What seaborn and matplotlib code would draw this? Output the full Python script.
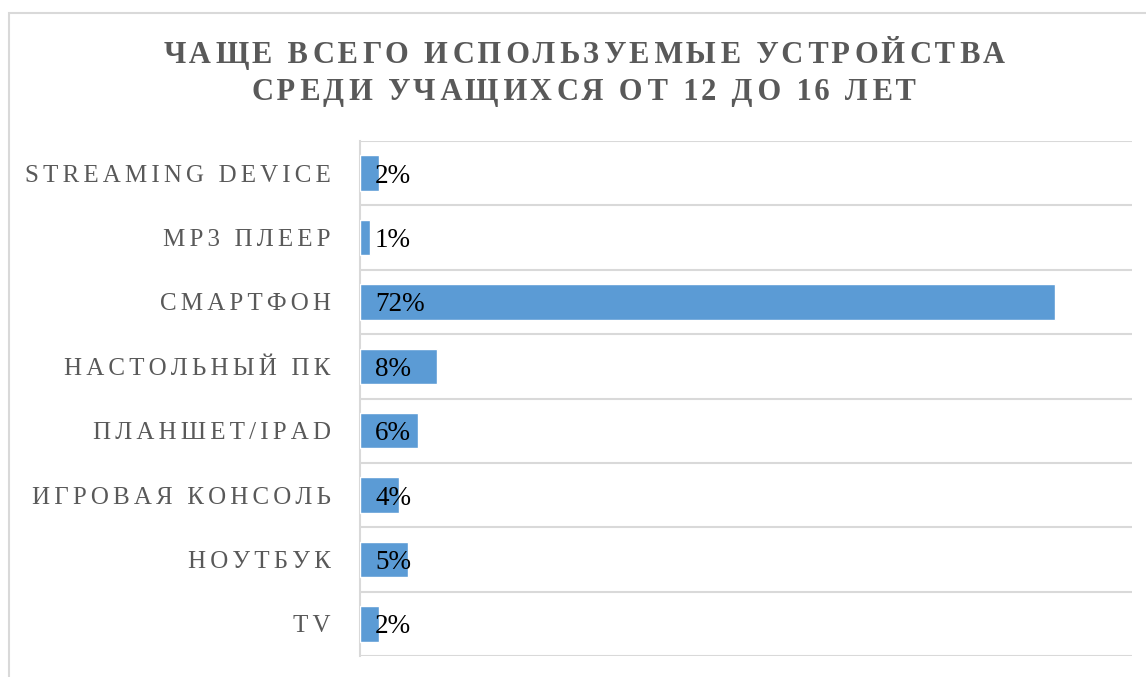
import matplotlib
matplotlib.use("Agg")
import matplotlib.pyplot as plt
import seaborn as sns
import pandas as pd
import numpy as np
from itertools import cycle
from matplotlib.patches import Rectangle

categories = ["Streaming device", "MP3 плеер", "Смартфон", "Настольный ПК",
              "Планшет/iPad", "Игровая консоль", "Ноутбук", "TV"]
values = [2, 1, 72, 8, 6, 4, 5, 2]
value_labels = ["2%", "1%", "72%", "8%", "6%", "4%", "5%", "2%"]
title_lines = ["Чаще всего используемые устройства",
               "среди учащихся от 12 до 16 лет"]


def spaced(s, seps):
    s = s.upper()
    it = cycle(seps)
    out = s[0]
    for ch in s[1:]:
        out += next(it) + ch
    return out


LABEL_SEPS = ["\u2006"]
TITLE_SEPS = ["\u200a", "\u2006"]

sns.set_theme(style="white")
plt.rcParams["font.family"] = ["Liberation Serif", "DejaVu Serif"]

W, H = 1146, 677
fig = plt.figure(figsize=(W / 100, H / 100), dpi=100)
ax = fig.add_axes([360 / W, 1 - 656 / H, (1132 - 360) / W, (656 - 141) / H])

# chart border
fig.patches.append(Rectangle((9 / W, -0.1), 1.2, 1 - 13 / H + 0.1,
                             transform=fig.transFigure, fill=False,
                             edgecolor="#d9d9d9", lw=1.5, zorder=0))

df = pd.DataFrame({"category": categories, "value": values})
sns.barplot(data=df, x="value", y="category", orient="h", color="#5B9BD5",
            saturation=1, width=0.55, ax=ax, zorder=3)

ax.set_xlim(0, 80)
ax.set_ylim(len(categories) - 0.5, -0.5)
ax.set_xlabel("")
ax.set_ylabel("")
ax.set_xticks([])
ax.set_yticks(range(len(categories)))
ax.set_yticklabels([spaced(c, LABEL_SEPS) for c in categories],
                   fontsize=18, color="#595959")
ax.tick_params(axis="y", which="major", length=0, pad=21)
ax.set_yticks(np.arange(-0.5, len(categories), 1), minor=True)
ax.tick_params(axis="y", which="minor", length=0)
ax.grid(which="minor", axis="y", color="#d9d9d9", lw=1.5, zorder=0)
ax.grid(which="major", axis="both", visible=False)

for s in ["top", "right", "bottom"]:
    ax.spines[s].set_visible(False)
ax.spines["left"].set_color("#d9d9d9")
ax.spines["left"].set_linewidth(1.5)

for i, lab in enumerate(value_labels):
    ax.annotate(lab, xy=(0, i), xytext=(15, -3), textcoords="offset pixels",
                ha="left", va="center", fontsize=19.5, color="black", zorder=5)

fig.text(584 / W, 1 - 63 / H, spaced(title_lines[0], TITLE_SEPS), ha="center",
         va="baseline", fontsize=22, fontweight="bold", color="#595959")
fig.text(584 / W, 1 - 100 / H, spaced(title_lines[1], TITLE_SEPS), ha="center",
         va="baseline", fontsize=22, fontweight="bold", color="#595959")

fig.savefig("out.png", dpi=100)
